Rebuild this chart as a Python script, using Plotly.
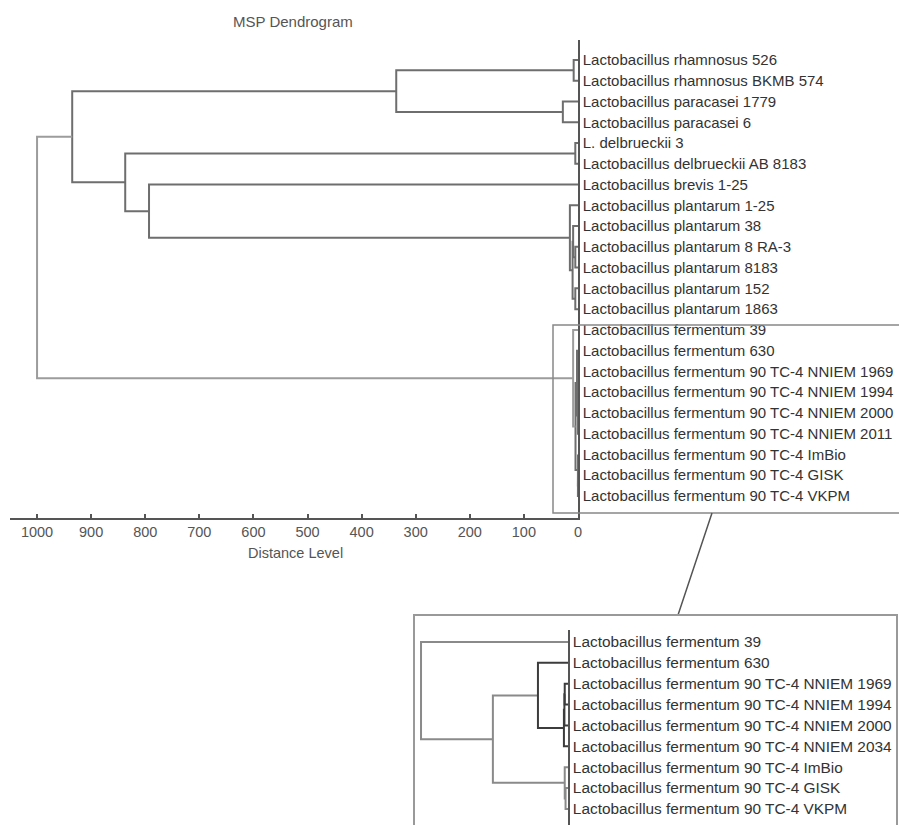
import plotly.graph_objects as go

W, H = 899, 825

leaf_labels = [
    "Lactobacillus rhamnosus 526",
    "Lactobacillus rhamnosus BKMB 574",
    "Lactobacillus paracasei 1779",
    "Lactobacillus paracasei 6",
    "L. delbrueckii 3",
    "Lactobacillus delbrueckii AB 8183",
    "Lactobacillus brevis 1-25",
    "Lactobacillus plantarum 1-25",
    "Lactobacillus plantarum 38",
    "Lactobacillus plantarum 8 RA-3",
    "Lactobacillus plantarum 8183",
    "Lactobacillus plantarum 152",
    "Lactobacillus plantarum 1863",
    "Lactobacillus fermentum 39",
    "Lactobacillus fermentum 630",
    "Lactobacillus fermentum 90 TC-4 NNIEM 1969",
    "Lactobacillus fermentum 90 TC-4 NNIEM 1994",
    "Lactobacillus fermentum 90 TC-4 NNIEM 2000",
    "Lactobacillus fermentum 90 TC-4 NNIEM 2011",
    "Lactobacillus fermentum 90 TC-4 ImBio",
    "Lactobacillus fermentum 90 TC-4 GISK",
    "Lactobacillus fermentum 90 TC-4 VKPM",
]

inset_labels = [
    "Lactobacillus fermentum 39",
    "Lactobacillus fermentum 630",
    "Lactobacillus fermentum 90 TC-4 NNIEM 1969",
    "Lactobacillus fermentum 90 TC-4 NNIEM 1994",
    "Lactobacillus fermentum 90 TC-4 NNIEM 2000",
    "Lactobacillus fermentum 90 TC-4 NNIEM 2034",
    "Lactobacillus fermentum 90 TC-4 ImBio",
    "Lactobacillus fermentum 90 TC-4 GISK",
    "Lactobacillus fermentum 90 TC-4 VKPM",
]

# merges: node id = 22 + index
merge_a = [0, 2, 22, 4, 9, 8, 11, 27, 7, 6, 25, 24, 15, 34, 35, 14, 20, 19, 37, 13, 33]
merge_b = [1, 3, 23, 5, 10, 26, 12, 28, 29, 30, 31, 32, 16, 17, 18, 36, 21, 38, 39, 40, 41]
merge_dist = [8, 28, 336, 5, 5, 9, 5, 10, 15, 793, 837, 935,
              0.2, 0.22, 0.25, 1.84, 0.15, 0.2, 4.6, 9, 1000]

x_ticks = [1000, 900, 800, 700, 600, 500, 400, 300, 200, 100, 0]

n_leaves = len(leaf_labels)
inset_first_leaf = 13
inset_merges = list(range(12, 20))
light_main = {19, 20}
dark_inset = {12, 13, 14, 15}

# node positions
node_y = {i: float(i) for i in range(n_leaves)}
node_d = {i: 0.0 for i in range(n_leaves)}
for k, (a, b, d) in enumerate(zip(merge_a, merge_b, merge_dist)):
    nid = n_leaves + k
    node_y[nid] = (node_y[a] + node_y[b]) / 2
    node_d[nid] = d


def u_shape(k, yoff=0.0):
    a, b, d = merge_a[k], merge_b[k], merge_dist[k]
    xs = [node_d[a], d, d, node_d[b], None]
    ys = [node_y[a] - yoff, node_y[a] - yoff, node_y[b] - yoff, node_y[b] - yoff, None]
    return xs, ys


fig = go.Figure()


def add_group(ks, color, width, xa, ya, yoff=0.0):
    xs, ys = [], []
    for k in ks:
        x1, y1 = u_shape(k, yoff)
        xs += x1
        ys += y1
    fig.add_trace(go.Scatter(x=xs, y=ys, mode="lines", xaxis=xa, yaxis=ya,
                             line=dict(color=color, width=width),
                             hoverinfo="skip", showlegend=False))


all_k = list(range(len(merge_a)))
add_group([k for k in all_k if k not in light_main], "#6e6e6e", 2, "x", "y")
add_group([k for k in all_k if k in light_main], "#9c9c9c", 2, "x", "y")
add_group([k for k in inset_merges if k not in dark_inset], "#8a8a8a", 2, "x2", "y2", inset_first_leaf)
add_group([k for k in inset_merges if k in dark_inset], "#3c3c3c", 2, "x2", "y2", inset_first_leaf)

font_family = "Liberation Sans, Arial, sans-serif"

fig.update_layout(
    width=W, height=H, autosize=False,
    margin=dict(l=0, r=0, t=0, b=0),
    paper_bgcolor="white", plot_bgcolor="white",
    font=dict(family=font_family, color="#333"),
    xaxis=dict(domain=[10 / W, 578 / W], range=[1050, 0], anchor="y",
               showline=True, linecolor="#555", linewidth=2,
               ticks="inside", ticklen=4, tickcolor="#555", tickwidth=1.5,
               tickvals=x_ticks, ticktext=[str(v) for v in x_ticks],
               tickfont=dict(size=14.5, color="#555"),
               showgrid=False, zeroline=False, automargin=False),
    yaxis=dict(domain=[1 - 518 / H, 1 - 40 / H], range=[22.06, -0.963], anchor="x",
               side="right", showline=True, linecolor="#555", linewidth=1.5,
               tickvals=list(range(n_leaves)), ticktext=leaf_labels, ticks="",
               tickfont=dict(size=15, color="#333"),
               showgrid=False, zeroline=False, automargin=False),
    xaxis2=dict(domain=[414 / W, 568 / W], range=[9.43, 0], anchor="y2",
                visible=False),
    yaxis2=dict(domain=[0, 1 - 630 / H], range=[8.77, -0.575], anchor="x2",
                side="right", showline=True, linecolor="#555", linewidth=1.5,
                tickvals=list(range(len(inset_labels))), ticktext=inset_labels, ticks="",
                tickfont=dict(size=15.4, color="#333"),
                showgrid=False, zeroline=False, automargin=False),
)


def px(x):
    return x / W


def py(y):
    return 1 - y / H


fig.add_annotation(text="MSP Dendrogram", x=px(293), y=py(22), xref="paper", yref="paper",
                   showarrow=False, xanchor="center", yanchor="middle",
                   font=dict(size=15, color="#555"))
fig.add_annotation(text="Distance Level", x=px(295), y=py(553), xref="paper", yref="paper",
                   showarrow=False, xanchor="center", yanchor="middle",
                   font=dict(size=14.5, color="#555"))

# zoom rectangle, connector, inset frame
fig.add_shape(type="rect", xref="paper", yref="paper",
              x0=px(553), x1=px(910), y0=py(513), y1=py(325),
              line=dict(color="#888", width=1.5))
fig.add_shape(type="line", xref="paper", yref="paper",
              x0=px(712), y0=py(513), x1=px(678), y1=py(615),
              line=dict(color="#555", width=1.5))
fig.add_shape(type="rect", xref="paper", yref="paper",
              x0=px(414), x1=px(897), y0=py(840), y1=py(615),
              line=dict(color="#999", width=2))

fig.write_html("out.html")
